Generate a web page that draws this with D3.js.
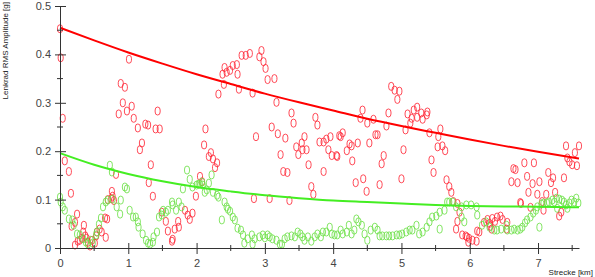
<!DOCTYPE html>
<html>
<head>
<meta charset="utf-8">
<script src="https://cdn.jsdelivr.net/npm/d3@7"></script>
<style>
  body { margin: 0; background: #fff; }
  svg { display: block; font-family: Arial, "Liberation Sans", sans-serif; }
</style>
</head>
<body>
<div id="chart"></div>
<script>
// tick values
const xMajorTicks = [0, 1, 2, 3, 4, 5, 6, 7]
const xMinorTicks = [0.5, 1.5, 2.5, 3.5, 4.5, 5.5, 6.5, 7.5]
const yMajorTicks = [0, 0.1, 0.2, 0.3, 0.4, 0.5]
const yMinorTicks = [0.05, 0.15, 0.25, 0.35, 0.45]

// red scatter: Strecke [km], amplitude [g]
const redX = [0,0.01,1.01,0.89,0.95,0.04,0.92,0.98,1.05,0.86,1.08,1.14,1.25,1.29,1.2,1.17,0.07,0.13,0.82,0.16,0.76,0.77,0.75,0.79,0.7,0.25,0.22,0.66,0.69,0.17,0.35,0.58,0.61,0.67,0.34,0.37,0.29,0.26,0.22,0.41,0.47,0.53,0.54,0.44,0.32,0.39,0.51,
  1.43,1.4,1.46,2.13,2.11,2.21,2.18,2.24,2.3,2.27,1.33,1.3,2.05,2.08,1.36,1.99,1.49,1.83,1.87,1.94,1.9,1.73,1.74,1.55,1.58,1.68,1.65,1.64,2.41,2.44,2.53,2.38,2.49,2.4,2.32,
  2.66,2.72,2.78,2.95,2.92,2.98,3.01,2.59,2.6,3.04,3.14,2.62,2.82,3.17,3.39,3.42,3.74,3.77,3.1,3.19,3.3,2.87,3.58,3.54,3.46,3.49,3.55,3.61,3.8,3.86,3.23,3.64,3.27,3.33,3.86,3.68,3.71,2.84,3.07,3.36,
  4.85,4.9,4.97,4.94,4.43,4.4,4.5,4.59,4.81,4.78,5.09,5.06,5.15,5.18,5.13,3.9,3.96,4.09,4.14,4.11,4.24,4.27,4.36,4.53,4.62,4.65,3.93,3.98,4.05,4.06,4.2,5.03,4.74,4.71,4.28,4.33,4.44,4.68,5,4.49,
  5.23,5.23,5.31,5.29,5.38,5.37,5.41,5.57,5.54,5.53,5.6,5.64,5.44,5.47,5.66,5.7,5.73,5.76,5.82,5.85,5.82,5.8,5.89,5.94,5.96,5.99,6.04,5.98,6.1,6.14,6.11,6.21,6.26,6.29,6.33,6.37,6.4,6.45,6.48,6.32,6.3,
  7.41,7.6,7.54,7.5,7.57,7.46,7.43,6.8,6.94,6.64,6.67,7.15,7.22,7.19,7.38,6.61,6.7,6.84,6.92,7.02,6.86,6.99,7.12,7.25,6.74,6.75,6.89,7.06,7.08,7.31,7.34,6.55,6.54]
const redY = [0.453,0.393,0.39,0.34,0.332,0.268,0.3,0.283,0.293,0.277,0.268,0.248,0.256,0.254,0.217,0.203,0.18,0.158,0.152,0.113,0.117,0.107,0.102,0.098,0.1,0.07,0.053,0.062,0.06,0.045,0.047,0.039,0.033,0.022,0.033,0.025,0.016,0.014,0.006,0.012,0.016,0.025,0.033,0.004,0.02,0.02,0.01,
  0.283,0.246,0.246,0.246,0.213,0.197,0.189,0.184,0.176,0.166,0.172,0.135,0.148,0.137,0.107,0.107,0.074,0.078,0.068,0.072,0.059,0.055,0.043,0.055,0.035,0.039,0.018,0.014,0.373,0.363,0.377,0.359,0.367,0.338,0.318,
  0.398,0.398,0.402,0.408,0.395,0.385,0.371,0.379,0.359,0.348,0.35,0.328,0.32,0.301,0.279,0.258,0.27,0.254,0.25,0.236,0.227,0.23,0.23,0.217,0.209,0.193,0.203,0.203,0.219,0.219,0.193,0.172,0.158,0.156,0.158,0.127,0.111,0.102,0.102,0.098,
  0.334,0.326,0.324,0.307,0.285,0.268,0.258,0.266,0.279,0.252,0.277,0.244,0.268,0.285,0.258,0.225,0.23,0.232,0.238,0.23,0.215,0.211,0.217,0.217,0.234,0.234,0.203,0.191,0.191,0.189,0.201,0.203,0.191,0.174,0.18,0.135,0.143,0.131,0.143,0.117,
  0.291,0.27,0.266,0.279,0.281,0.275,0.238,0.246,0.23,0.209,0.211,0.201,0.182,0.156,0.141,0.127,0.115,0.096,0.092,0.074,0.055,0.039,0.027,0.025,0.023,0.02,0.016,0.012,0.014,0.033,0.035,0.053,0.059,0.051,0.061,0.055,0.064,0.066,0.059,0.039,0.045,
  0.211,0.211,0.197,0.172,0.17,0.178,0.186,0.176,0.176,0.164,0.162,0.156,0.145,0.135,0.145,0.137,0.135,0.148,0.133,0.137,0.115,0.111,0.111,0.115,0.094,0.092,0.084,0.096,0.078,0.066,0.074,0.053,0.039]

// green scatter
const greenX = [0,0.01,0.04,0.07,0.13,0.18,0.2,0.25,0.29,0.34,0.38,0.41,0.45,0.48,0.53,0.54,0.57,0.6,0.63,0.67,0.7,0.73,0.76,0.77,0.83,0.88,0.89,0.95,0.98,
  1.02,1.07,1.11,1.14,1.15,1.21,1.26,1.29,1.32,1.36,1.37,1.42,1.45,1.49,1.51,1.55,1.58,1.64,1.65,1.7,1.74,1.78,1.8,1.86,1.9,1.94,
  2,2.03,2.05,2.08,2.09,2.12,2.15,2.18,2.22,2.24,2.3,2.32,2.37,2.41,2.44,2.46,2.49,2.53,2.56,2.6,2.65,2.68,2.7,2.75,2.81,2.82,2.85,2.92,2.97,
  3,3.04,3.07,3.11,3.17,3.22,3.25,3.29,3.33,3.39,3.44,3.48,3.52,3.55,3.58,3.63,3.68,3.73,3.77,3.82,3.85,3.9,3.95,3.98,
  4.02,4.06,4.11,4.14,4.2,4.23,4.27,4.31,4.34,4.37,4.42,4.46,4.5,4.55,4.61,4.65,4.68,4.72,4.78,4.82,4.87,4.93,4.97,
  5.01,5.07,5.12,5.16,5.22,5.26,5.31,5.37,5.41,5.45,5.51,5.56,5.56,5.63,5.67,5.7,5.75,5.8,5.88,5.88,5.92,5.95,
  6.02,6.1,6.11,6.18,6.24,6.29,6.36,6.4,6.46,6.54,6.55,6.61,6.65,6.7,6.74,6.77,6.81,6.84,6.89,6.93,6.97,6.99,
  7.02,7.05,7.08,7.13,7.16,7.21,7.24,7.27,7.28,7.31,7.35,7.38,7.41,7.43,7.46,7.49,7.53,7.56,7.59]
const greenY = [0.105,0.095,0.085,0.078,0.06,0.058,0.047,0.029,0.027,0.019,0.012,0.008,0.016,0.01,0.027,0.033,0.049,0.062,0.085,0.095,0.099,0.171,0.157,0.101,0.085,0.07,0.099,0.126,0.122,
  0.078,0.064,0.064,0.054,0.043,0.029,0.016,0.01,0.008,0.012,0.023,0.033,0.064,0.068,0.078,0.074,0.078,0.095,0.089,0.078,0.095,0.085,0.122,0.161,0.142,0.126,
  0.13,0.132,0.132,0.136,0.13,0.115,0.12,0.134,0.151,0.115,0.109,0.105,0.058,0.095,0.085,0.08,0.076,0.064,0.058,0.041,0.037,0.027,0.01,0.019,0.027,0.008,0.019,0.023,0.027,
  0.021,0.027,0.023,0.019,0.016,0.008,0.008,0.019,0.023,0.025,0.023,0.033,0.029,0.023,0.016,0.023,0.014,0.023,0.029,0.023,0.033,0.033,0.043,0.029,
  0.027,0.027,0.037,0.029,0.033,0.047,0.029,0.037,0.06,0.054,0.047,0.029,0.016,0.037,0.043,0.037,0.025,0.025,0.025,0.025,0.025,0.027,0.027,
  0.029,0.033,0.037,0.037,0.047,0.029,0.033,0.043,0.054,0.064,0.066,0.074,0.039,0.078,0.095,0.095,0.095,0.085,0.085,0.064,0.054,0.089,
  0.089,0.085,0.068,0.047,0.054,0.043,0.037,0.037,0.039,0.047,0.037,0.037,0.039,0.037,0.039,0.043,0.052,0.058,0.064,0.072,0.078,0.085,
  0.043,0.091,0.093,0.093,0.095,0.099,0.095,0.103,0.082,0.101,0.099,0.095,0.089,0.082,0.093,0.099,0.095,0.103,0.093]

// trend curves
const fitX = [0,0.5,1,1.5,2,2.5,3,3.5,4,4.5,5,5.5,6,6.5,7,7.6]
const redFitY = [0.455,0.429,0.404,0.381,0.359,0.339,0.319,0.301,0.284,0.267,0.252,0.238,0.224,0.211,0.199,0.185]
const greenFitY = [0.196,0.172,0.153,0.138,0.126,0.117,0.109,0.103,0.098,0.095,0.092,0.089,0.087,0.086,0.085,0.084]

const W = 595, H = 277
const svg = d3.select("#chart").append("svg")
    .attr("width", W)
    .attr("height", H)

const x = d3.scaleLinear().domain([0, 7.6]).range([60, 579])
const y = d3.scaleLinear().domain([0, 0.5]).range([248, 6])

const axisColor = "#333"

// scatter markers (drawn first, lines on top)
function drawPoints(xs, ys, color){
    const pts = xs.map((d, i) => [d, ys[i]])
    svg.append("g").selectAll("rect")
      .data(pts)
      .enter().append("rect")
        .attr("x", d => x(d[0]) - 2.5)
        .attr("y", d => y(d[1]) - 4)
        .attr("width", 5)
        .attr("height", 8)
        .attr("rx", 2.5)
        .attr("ry", 3)
        .attr("fill", "none")
        .attr("stroke", color)
        .attr("stroke-width", 1)
        .attr("stroke-opacity", 0.85)
}
drawPoints(redX, redY, "#ff2a3a")
drawPoints(greenX, greenY, "#6ee04a")

const line = d3.line().curve(d3.curveMonotoneX)
svg.append("path")
    .attr("d", line(fitX.map((d, i) => [x(d), y(redFitY[i])])))
    .attr("fill", "none").attr("stroke", "#ff0000").attr("stroke-width", 2)
svg.append("path")
    .attr("d", line(fitX.map((d, i) => [x(d), y(greenFitY[i])])))
    .attr("fill", "none").attr("stroke", "#44ee22").attr("stroke-width", 2)

// x axis
const xAxis = svg.append("g")
    .attr("transform", `translate(0,${y(0)})`)
    .call(d3.axisBottom(x).tickValues(xMajorTicks).tickSize(0).tickPadding(11))
xAxis.select(".domain").attr("stroke", axisColor)
xAxis.selectAll(".tick line").attr("stroke", axisColor).attr("y1", -5).attr("y2", 6)
xAxis.selectAll(".tick text").attr("fill", "#444").style("font-size", "11px")
svg.append("g").selectAll("line")
    .data(xMinorTicks)
    .enter().append("line")
      .attr("x1", d => x(d)).attr("x2", d => x(d))
      .attr("y1", y(0) - 3).attr("y2", y(0) + 3)
      .attr("stroke", axisColor)

// y axis
const yAxis = svg.append("g")
    .attr("transform", `translate(${x(0)},0)`)
    .call(d3.axisLeft(y).tickValues(yMajorTicks).tickSize(0).tickPadding(9)
      .tickFormat(d => d === 0 ? "0" : d.toFixed(1)))
yAxis.select(".domain").attr("stroke", axisColor)
yAxis.selectAll(".tick line").attr("stroke", axisColor).attr("x1", -5).attr("x2", 6)
yAxis.selectAll(".tick text").attr("fill", "#444").style("font-size", "11px")
svg.append("g").selectAll("line")
    .data(yMinorTicks)
    .enter().append("line")
      .attr("x1", x(0) - 3).attr("x2", x(0) + 3)
      .attr("y1", d => y(d)).attr("y2", d => y(d))
      .attr("stroke", axisColor)

// axis titles
svg.append("text")
    .attr("transform", "translate(8,2) rotate(-90)")
    .attr("text-anchor", "end")
    .style("font-size", "8px")
    .attr("fill", "#222")
    .text("Lenkrad RMS Amplitude [g]")

svg.append("text")
    .attr("x", 593)
    .attr("y", 275)
    .attr("text-anchor", "end")
    .style("font-size", "8px")
    .attr("fill", "#222")
    .text("Strecke [km]")
</script>
</body>
</html>
